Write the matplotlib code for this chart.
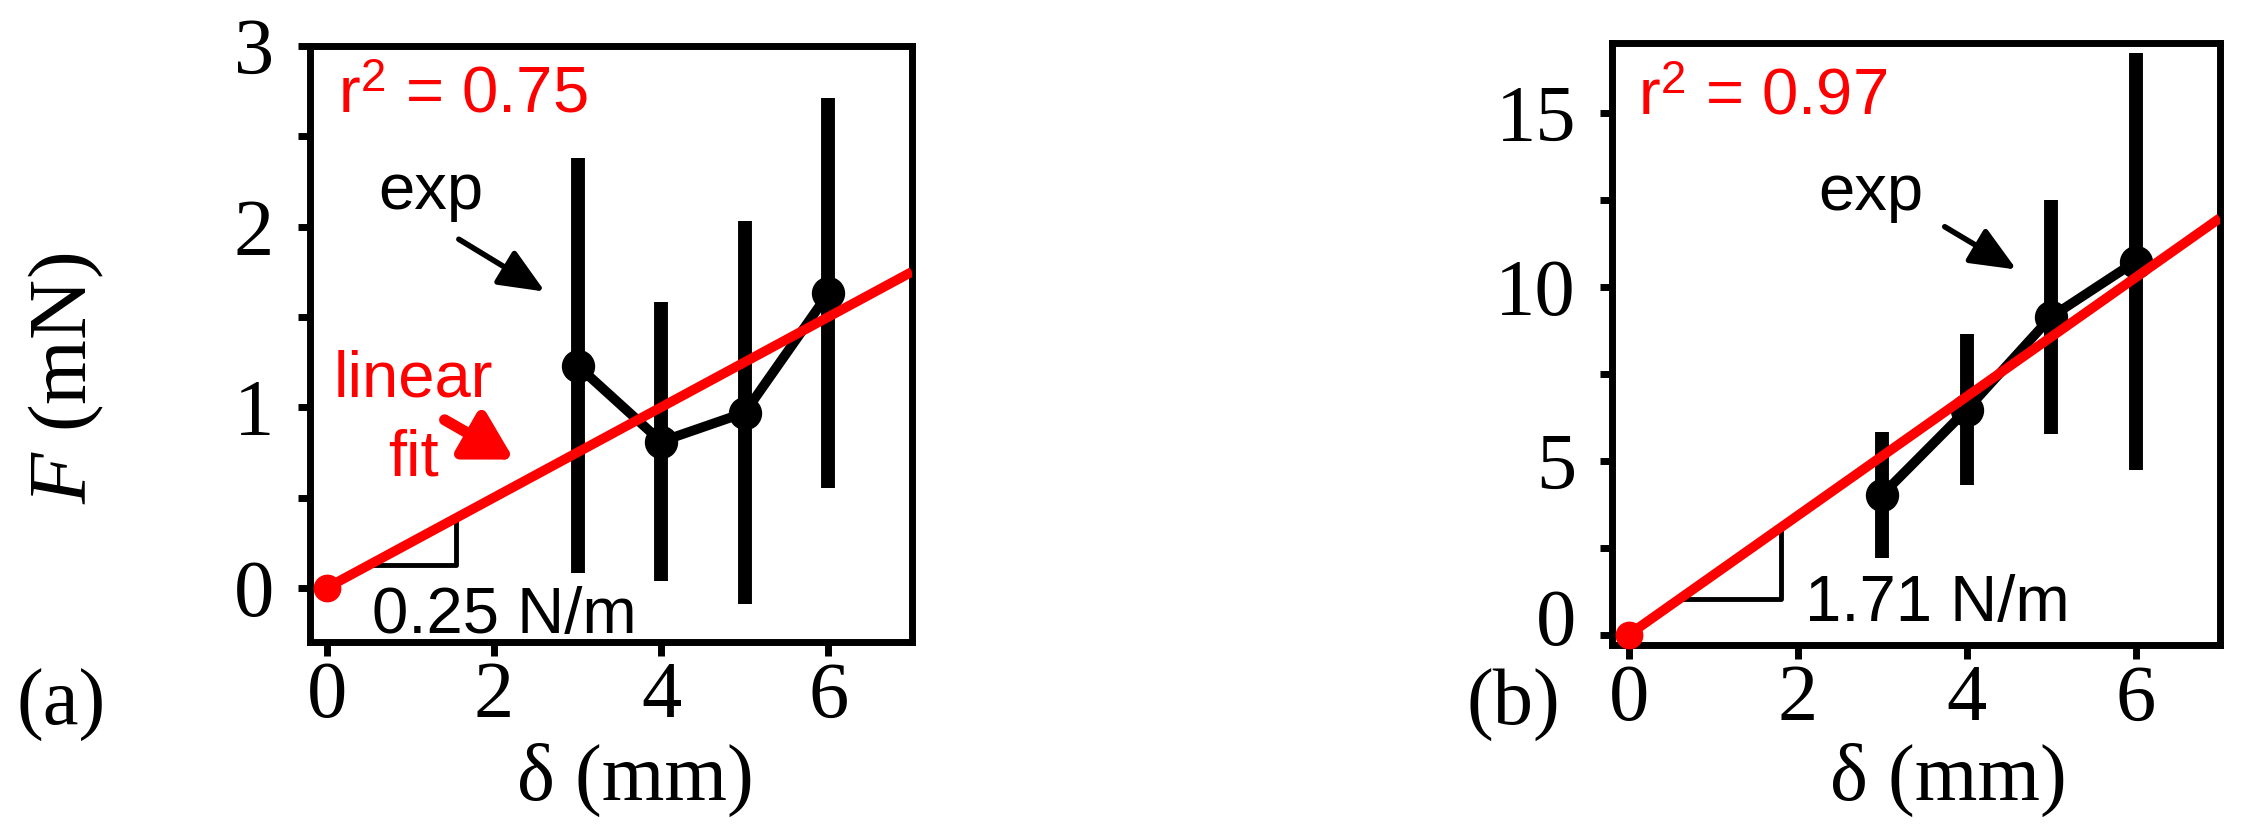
import matplotlib
matplotlib.use("Agg")
import matplotlib.pyplot as plt
from matplotlib.ticker import MultipleLocator
from matplotlib.transforms import ScaledTranslation

# -----------------------------
# Data
# -----------------------------
disp = [3, 4, 5, 6]                 # δ (mm)
fit_x = [0, 7]                      # range of the linear fit

# (a)
force_a = [1.23, 0.81, 0.97, 1.63]  # F (mN)
err_a = [1.15, 0.77, 1.06, 1.08]
slope_a = 0.25                      # N/m
r2_a = 0.75
tri_a = [0.5, 1.55]
yticks_a = [0, 1, 2, 3]

# (b)
force_b = [4.02, 6.46, 9.13, 10.72]
err_b = [1.81, 2.17, 3.36, 6.0]
slope_b = 1.71
r2_b = 0.97
tri_b = [0.6, 1.8]
yticks_b = [0, 5, 10, 15]

xticks = [0, 2, 4, 6]

plt.rcParams.update({
    "font.family": "Liberation Serif",
    "mathtext.fontset": "custom",
    "mathtext.rm": "Liberation Serif",
    "mathtext.it": "Liberation Serif:italic",
    "mathtext.sf": "Liberation Sans",
})
SANS = "Liberation Sans"

W, H = 2243, 831
fig = plt.figure(figsize=(W / 100, H / 100), dpi=100)


def px_axes(l, t, r, b):
    return [l / W, 1 - b / H, (r - l) / W, (b - t) / H]


ax_a = fig.add_axes(px_axes(310, 46, 912, 642))
ax_b = fig.add_axes(px_axes(1612, 43, 2220, 645))


def draw_panel(ax, force, err, slope, tri, ylim, yticks, minor):
    # experimental points with error bars
    ax.errorbar(disp, force, yerr=err, fmt="none", ecolor="black",
                elinewidth=10, capsize=0, zorder=2)
    ax.plot(disp, force, "-o", color="black", lw=7, ms=23, zorder=3)
    # linear fit through origin
    ax.plot(fit_x, [slope * x for x in fit_x], color="red", lw=7,
            solid_capstyle="butt", zorder=4)
    ax.plot(0, 0, "o", color="red", ms=19, clip_on=False, zorder=6)
    # slope triangle
    x0, x1 = tri
    ax.plot([x0, x1, x1], [slope * x0, slope * x0, slope * x1],
            color="black", lw=3.5, zorder=1)

    ax.set_xlim(-0.2, 7)
    ax.set_ylim(*ylim)
    ax.set_xticks(xticks)
    ax.set_yticks(yticks)
    ax.yaxis.set_minor_locator(MultipleLocator(minor))
    for s in ax.spines.values():
        s.set_linewidth(5)
    ax.tick_params(axis="both", which="both", direction="out", width=5,
                   labelsize=58, top=False, right=False)
    ax.tick_params(axis="y", which="both", length=9, pad=17)
    ax.tick_params(axis="x", which="both", length=10, pad=4)
    ax.set_xlabel("δ (mm)", fontsize=58)
    ax.xaxis.label.set_va("baseline")


draw_panel(ax_a, force_a, err_a, slope_a, tri_a, (-0.3, 3.0), yticks_a, 0.5)
draw_panel(ax_b, force_b, err_b, slope_b, tri_b, (-0.3, 17), yticks_b, 2.5)

ax_a.xaxis.set_label_coords(0.54, -0.265)
ax_b.xaxis.set_label_coords(0.553, -0.257)

ax_a.set_ylabel("$F$ (mN)", fontsize=60)
ax_a.yaxis.set_label_coords(-0.339, 0.443)

# the "0" label of (b) sits a little higher, clear of the panel letter
lab0 = ax_b.get_yticklabels()[0]
lab0.set_transform(lab0.get_transform()
                   + ScaledTranslation(0, 0.18, fig.dpi_scale_trans))


def r2_label(r2):
    return r"$\mathsf{r}^{\mathsf{2}}$" + f" = {r2:.2f}"


# annotations (a)
ax_a.text(0.13, 2.63, r2_label(r2_a), color="red", fontsize=47,
          family=SANS, ha="left", va="baseline")
ax_a.text(0.62, 2.10, "exp", color="black", fontsize=47, family=SANS,
          ha="left", va="baseline")
ax_a.annotate("", xy=(2.61, 1.64), xytext=(1.58, 1.93),
              arrowprops=dict(arrowstyle="-|>,head_length=1.4,head_width=0.6",
                              color="black", lw=4, mutation_scale=20,
                              shrinkA=0, shrinkB=0))
ax_a.text(1.04, 1.06, "linear", color="red", fontsize=47, family=SANS,
          ha="center", va="baseline")
ax_a.text(1.04, 0.62, "fit", color="red", fontsize=47, family=SANS,
          ha="center", va="baseline")
ax_a.annotate("", xy=(2.24, 0.71), xytext=(1.41, 0.93),
              arrowprops=dict(arrowstyle="-|>,head_length=1.4,head_width=0.8",
                              color="red", lw=8, mutation_scale=20,
                              shrinkA=0, shrinkB=0))
ax_a.text(0.54, -0.25, f"{slope_a:.2f} N/m", color="black", fontsize=47,
          family=SANS, ha="left", va="baseline")

# annotations (b)
ax_b.text(0.11, 14.94, r2_label(r2_b), color="red", fontsize=47,
          family=SANS, ha="left", va="baseline")
ax_b.text(2.24, 12.2, "exp", color="black", fontsize=47, family=SANS,
          ha="left", va="baseline")
ax_b.annotate("", xy=(4.59, 10.49), xytext=(3.74, 11.72),
              arrowprops=dict(arrowstyle="-|>,head_length=1.4,head_width=0.6",
                              color="black", lw=4, mutation_scale=20,
                              shrinkA=0, shrinkB=0))
ax_b.text(2.09, 0.40, f"{slope_b:.2f} N/m", color="black", fontsize=47,
          family=SANS, ha="left", va="baseline")

# panel letters
fig.text(61 / W, 1 - 725 / H, "(a)", fontsize=58, ha="center", va="baseline")
fig.text(1513 / W, 1 - 725 / H, "(b)", fontsize=58, ha="center", va="baseline")

fig.savefig("out.png", dpi=100)
